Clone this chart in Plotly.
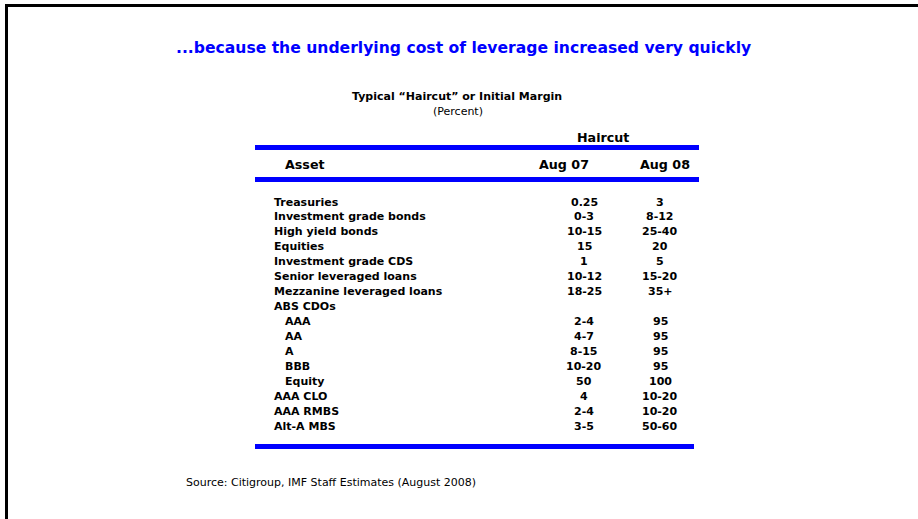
import plotly.graph_objects as go

# ---- data ----
title = "...because the underlying cost of leverage increased very quickly"
subtitle = "Typical \u201cHaircut\u201d or Initial Margin"
unit = "(Percent)"
group_header = "Haircut"
col_headers = ["Asset", "Aug 07", "Aug 08"]
assets = ["Treasuries", "Investment grade bonds", "High yield bonds", "Equities",
          "Investment grade CDS", "Senior leveraged loans", "Mezzanine leveraged loans",
          "ABS CDOs", "AAA", "AA", "A", "BBB", "Equity", "AAA CLO", "AAA RMBS", "Alt-A MBS"]
indent = [0, 0, 0, 0, 0, 0, 0, 0, 1, 1, 1, 1, 1, 0, 0, 0]
aug07 = ["0.25", "0-3", "10-15", "15", "1", "10-12", "18-25", "",
         "2-4", "4-7", "8-15", "10-20", "50", "4", "2-4", "3-5"]
aug08 = ["3", "8-12", "25-40", "20", "5", "15-20", "35+", "",
         "95", "95", "95", "95", "100", "10-20", "10-20", "50-60"]
source = "Source: Citigroup, IMF Staff Estimates (August 2008)"

W, H = 918, 519
BLUE = "#0000ff"
FONT = "DejaVu Sans"

fig = go.Figure()
fig.add_trace(go.Scatter(x=[0, W], y=[0, H], mode="markers",
                         marker=dict(opacity=0), hoverinfo="skip", showlegend=False))

ann = []
def txt(x, y, s, size, bold=False, color="black", anchor="center"):
    ann.append(dict(x=x, y=y, xref="x", yref="y", text=("<b>%s</b>" % s) if bold else s,
                    showarrow=False, xanchor=anchor, yanchor="middle",
                    font=dict(family=FONT, size=size, color=color)))

txt(463, 48, title, 15.6, True, BLUE)
txt(457, 96, subtitle, 11, True)
txt(458, 111, unit, 11)
txt(603, 137, group_header, 12.7, True)
txt(283, 164, col_headers[0], 12.7, True, anchor="left")
txt(564, 164, col_headers[1], 12.7, True)
txt(665, 164, col_headers[2], 12.7, True)

row0, step = 202, 14.95
for i, (a, ind, v1, v2) in enumerate(zip(assets, indent, aug07, aug08)):
    y = row0 + i * step
    txt(272 + 11 * ind, y, a, 11, True, anchor="left")
    if v1:
        txt(584, y, v1, 11, True)
    if v2:
        txt(660, y, v2, 11, True)

txt(184, 482, source, 11, anchor="left")

shapes = [
    dict(type="rect", x0=255, x1=699, y0=145, y1=150, fillcolor=BLUE, line_width=0, xref="x", yref="y"),
    dict(type="rect", x0=255, x1=699, y0=177, y1=182, fillcolor=BLUE, line_width=0, xref="x", yref="y"),
    dict(type="rect", x0=255, x1=694, y0=444, y1=449, fillcolor=BLUE, line_width=0, xref="x", yref="y"),
    dict(type="rect", x0=5, x1=W, y0=4, y1=7, fillcolor="black", line_width=0, xref="x", yref="y"),
    dict(type="rect", x0=5, x1=8, y0=4, y1=H, fillcolor="black", line_width=0, xref="x", yref="y"),
]

fig.update_layout(
    width=W, height=H, margin=dict(l=0, r=0, t=0, b=0),
    paper_bgcolor="white", plot_bgcolor="white",
    xaxis=dict(range=[0, W], visible=False, fixedrange=True),
    yaxis=dict(range=[H, 0], visible=False, fixedrange=True),
    annotations=ann, shapes=shapes, showlegend=False,
)
fig.write_html("out.html", config={"displayModeBar": False},
               post_script="document.body.style.margin='0';document.body.style.overflow='hidden';")
